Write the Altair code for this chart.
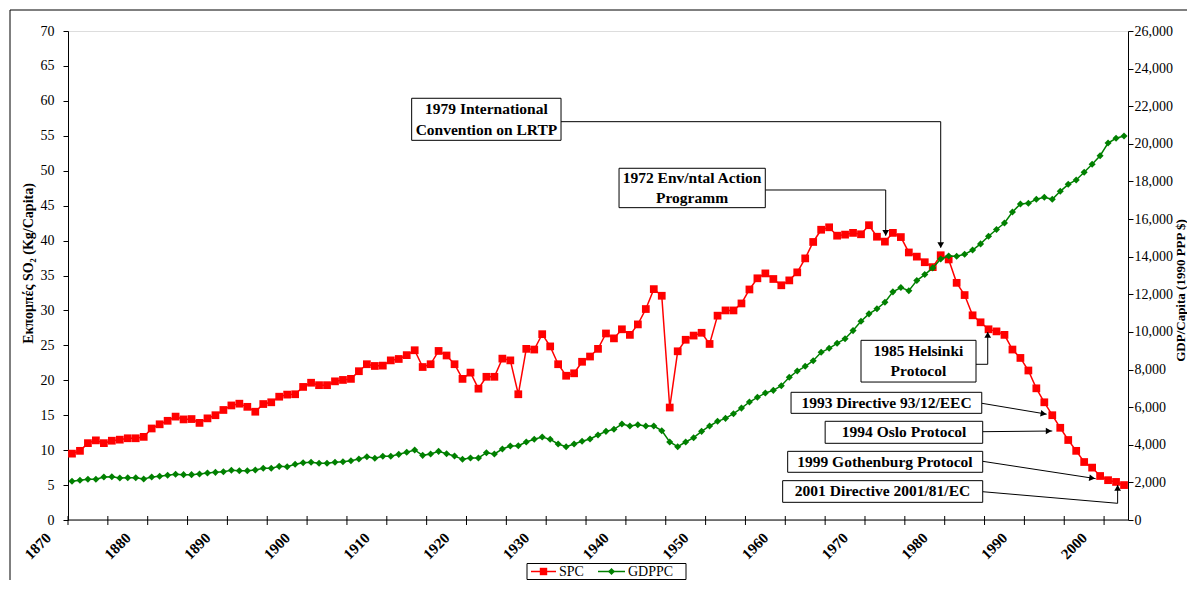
import altair as alt
import pandas as pd

# ---------------- data ----------------
years = list(range(1870, 2003))

spc = [
    9.5, 9.9, 11.0, 11.4, 11.0, 11.35, 11.5, 11.7, 11.7, 11.9,
    13.1, 13.7, 14.2, 14.8, 14.4, 14.45, 13.9, 14.55, 15.0, 15.75,
    16.4, 16.65, 16.2, 15.5, 16.6, 16.85, 17.65, 17.95, 18.0, 19.05,
    19.65, 19.3, 19.3, 19.85, 20.05, 20.2, 21.3, 22.3, 22.05, 22.1,
    22.85, 23.05, 23.6, 24.3, 21.9, 22.3, 24.2, 23.55, 22.3, 20.2,
    21.1, 18.8, 20.5, 20.5, 23.1, 22.85, 18.0, 24.5, 24.4, 26.6,
    24.85, 22.3, 20.65, 21.0, 22.65, 23.4, 24.5, 26.7, 26.0, 27.3,
    26.5, 28.0, 30.2, 33.05, 32.1, 16.1, 24.15, 25.8, 26.4, 26.8,
    25.2, 29.25, 30.0, 30.0, 31.0, 33.0, 34.6, 35.3, 34.5, 33.6,
    34.3, 35.45, 37.45, 39.8, 41.55, 41.9, 40.7, 40.85, 41.1, 40.9,
    42.2, 40.55, 39.85, 41.1, 40.5, 38.3, 37.7, 36.9, 36.2, 37.9,
    37.3, 33.95, 32.2, 29.3, 28.3, 27.3, 27.0, 26.5, 24.4, 23.2,
    21.4, 18.85, 16.85, 15.0, 13.2, 11.45, 9.9, 8.3, 7.5, 6.3,
    5.7, 5.45, 5.0,
]

gdppc = [
    2058, 2110, 2164, 2164, 2286, 2304, 2233, 2251, 2251, 2180,
    2286, 2322, 2375, 2428, 2411, 2411, 2446, 2499, 2534, 2570,
    2641, 2623, 2623, 2659, 2747, 2747, 2853, 2836, 2960, 3048,
    3066, 3013, 3013, 3066, 3101, 3155, 3243, 3367, 3279, 3385,
    3385, 3491, 3598, 3722, 3438, 3509, 3650, 3527, 3403, 3226,
    3297, 3297, 3580, 3509, 3775, 3935, 3952, 4147, 4289, 4413,
    4289, 4041, 3899, 4041, 4183, 4307, 4519, 4714, 4821, 5104,
    4998, 5069, 4998, 4998, 4750, 4147, 3899, 4147, 4377, 4714,
    4998, 5246, 5405, 5650, 5950, 6274, 6522, 6753, 6894, 7141,
    7587, 7922, 8172, 8470, 8917, 9129, 9395, 9640, 10070, 10564,
    10960, 11230, 11575, 12130, 12360, 12192, 12730, 13050, 13405, 13877,
    14037, 14020, 14126, 14356, 14680, 15090, 15445, 15791, 16376, 16801,
    16837, 17050, 17157, 17050, 17476, 17848, 18077, 18487, 18912, 19370,
    20045, 20295, 20417,
]

x_tick_values = [1869.5 + 5 * k for k in range(27)]
x_label_years = list(range(1870, 2001, 10))
left_ticks = list(range(0, 75, 5))
right_ticks = list(range(0, 28000, 2000))

# annotation boxes (year / SPC units)
box_x1 = [1912.62, 1938.64, 1969.0, 1960.22, 1964.5, 1959.8, 1959.17]
box_x2 = [1931.36, 1956.99, 1983.43, 1984.15, 1984.27, 1984.27, 1984.27]
box_y1 = [60.37, 50.35, 25.72, 18.28, 14.13, 9.83, 5.63]
box_y2 = [54.35, 44.71, 19.75, 15.27, 10.98, 6.83, 2.53]

note_text = ["1979 International", "Convention on LRTP",
             "1972 Env/ntal Action", "Programm",
             "1985 Helsinki", "Protocol",
             "1993 Directive 93/12/EEC", "1994 Oslo Protocol",
             "1999 Gothenburg Protocol", "2001 Directive 2001/81/EC"]
note_x = [1922.0, 1922.0, 1947.8, 1947.8, 1976.2, 1976.2, 1972.2, 1974.4, 1972.0, 1971.7]
note_y = [58.8, 55.8, 48.95, 46.1, 24.2, 21.3, 16.78, 12.55, 8.33, 4.08]

seg_x = [1931.36, 1979.0, 1956.99, 1972.1, 1983.43, 1984.9, 1984.15, 1984.27, 1984.27, 1984.27, 2001.2]
seg_y = [57.02, 57.02, 47.24, 47.24, 22.29, 22.29, 16.71, 12.64, 8.40, 4.05, 2.39]
seg_x2 = [1979.0, 1979.0, 1972.1, 1972.1, 1984.9, 1984.9, 1992.3, 1993.0, 1998.45, 2001.2, 2001.2]
seg_y2 = [57.02, 39.0, 47.24, 40.7, 22.29, 26.9, 15.15, 12.74, 5.92, 2.39, 5.0]

head_x = [1979.0, 1972.1, 1984.9, 1991.9, 1992.55, 1998.0, 2001.2]
head_y = [39.35, 41.1, 26.5, 15.22, 12.74, 5.99, 4.6]
head_shape = ["triangle-down", "triangle-down", "triangle-up", "triangle-right",
              "triangle-right", "triangle-right", "triangle-up"]
head_angle = [0, 0, 0, 9.5, 0, 9, 0]

# ---------------- frames ----------------
df = pd.DataFrame({"year": years, "SPC": spc, "GDPPC": gdppc})
boxes = pd.DataFrame({"x1": box_x1, "x2": box_x2, "y1": box_y1, "y2": box_y2})
notes = pd.DataFrame({"t": note_text, "x": note_x, "y": note_y})
segs = pd.DataFrame({"x": seg_x, "y": seg_y, "x2": seg_x2, "y2": seg_y2})
heads = pd.DataFrame({"x": head_x, "y": head_y, "shape": head_shape, "angle": head_angle})
xticks_df = pd.DataFrame({"t": x_tick_values})
xlabels_df = pd.DataFrame({"yr": x_label_years, "lab": [str(v) for v in x_label_years]})
one = pd.DataFrame({"a": [0]})

FONT = "Liberation Serif"
RED = "#FF0000"
GREEN = "#008000"
W, H = 1060, 489

xscale = alt.Scale(domain=[1869.5, 2002.5], nice=False, zero=False)
lscale = alt.Scale(domain=[0, 70], nice=False, zero=False)
rscale = alt.Scale(domain=[0, 26000], nice=False, zero=False)

left_axis = alt.Axis(
    orient="left", values=left_ticks, tickSize=5, labelPadding=9,
    labelFont=FONT, labelFontSize=14, labelColor="black",
    domainColor="black", tickColor="black", grid=False,
    title="Εκπομπές SO₂ (Kg/Capita)", titleFont=FONT, titleFontSize=14,
    titleFontWeight="bold", titleColor="black", titleAngle=270,
    titleX=-36, titleY=232, titleAlign="center", titleBaseline="alphabetic",
)
right_axis = alt.Axis(
    orient="right", values=right_ticks, format=",d", tickSize=5, labelPadding=1,
    labelFont=FONT, labelFontSize=14, labelColor="black",
    domainColor="black", tickColor="black", grid=False,
    title="GDP/Capita (1990 PPP $)", titleFont=FONT, titleFontSize=13,
    titleFontWeight="bold", titleColor="black", titleAngle=270,
    titleX=56, titleY=259, titleAlign="center", titleBaseline="alphabetic",
)


def Xn(f):
    return alt.X(f, scale=xscale, axis=None)


def Yl(f):
    return alt.Y(f, scale=lscale, axis=None)


base = alt.Chart(df)
spc_line = base.mark_line(color=RED, strokeWidth=1.5).encode(
    x=Xn("year:Q"), y=alt.Y("SPC:Q", scale=lscale, axis=left_axis))
spc_pts = base.mark_point(shape="square", filled=True, size=60, color=RED, opacity=1).encode(
    x=Xn("year:Q"), y=Yl("SPC:Q"))

seg_layer = alt.Chart(segs).mark_rule(color="black", strokeWidth=1).encode(
    x=Xn("x:Q"), y=Yl("y:Q"), x2="x2:Q", y2="y2:Q")
head_layer = alt.Chart(heads).mark_point(filled=True, size=45, color="black", opacity=1).encode(
    x=Xn("x:Q"), y=Yl("y:Q"),
    shape=alt.Shape("shape:N", scale=None),
    angle=alt.Angle("angle:Q", scale=None))
box_layer = alt.Chart(boxes).mark_rect(fill="white", stroke="black", strokeWidth=1).encode(
    x=Xn("x1:Q"), x2="x2:Q", y=Yl("y1:Q"), y2="y2:Q")
note_layer = alt.Chart(notes).mark_text(
    font=FONT, fontSize=15.5, fontWeight="bold", color="black", align="center", baseline="middle"
).encode(x=Xn("x:Q"), y=Yl("y:Q"), text="t:N")

gdp_line = base.mark_line(color=GREEN, strokeWidth=1.5).encode(
    x=Xn("year:Q"), y=alt.Y("GDPPC:Q", scale=rscale, axis=right_axis))
gdp_pts = base.mark_point(shape="diamond", filled=True, size=50, color=GREEN, opacity=1).encode(
    x=Xn("year:Q"), y=alt.Y("GDPPC:Q", scale=rscale, axis=None))

# x axis drawn from the x scale: domain line, crossing ticks, rotated labels
x_domain = alt.Chart(one).mark_rule(color="black", strokeWidth=1).encode(
    x=alt.value(0), x2=alt.value(W), y=alt.value(H))
x_tick_layer = alt.Chart(xticks_df).mark_rule(color="black", strokeWidth=1).encode(
    x=Xn("t:Q"), y=alt.value(H - 4), y2=alt.value(H + 5))
x_label_layer = alt.Chart(xlabels_df).transform_calculate(
    lx="datum.yr - 1.35"
).mark_text(
    font=FONT, fontSize=15, fontWeight="bold", color="black",
    align="center", baseline="middle", angle=315, dx=-16.5, dy=-16.5,
).encode(x=Xn("lx:Q"), y=alt.value(H + 26), text="lab:N")

# decorative chart border and legend (pixel positions)
ob = alt.Chart(one)
border = ob.mark_rect(fill="white", fillOpacity=0, stroke="black", strokeWidth=1).encode(
    x=alt.value(-58), x2=alt.value(1300), y=alt.value(-21), y2=alt.value(800))
LY = 540.5
leg_box = ob.mark_rect(fill="white", stroke="black", strokeWidth=1).encode(
    x=alt.value(459), x2=alt.value(618), y=alt.value(LY - 8), y2=alt.value(LY + 8))
leg_l1 = ob.mark_rule(color=RED, strokeWidth=1.5).encode(
    x=alt.value(463), x2=alt.value(488), y=alt.value(LY))
leg_p1 = ob.mark_point(shape="square", filled=True, size=55, color=RED, opacity=1).encode(
    x=alt.value(475.5), y=alt.value(LY))
leg_t1 = ob.mark_text(font=FONT, fontSize=14, align="left", baseline="middle", color="black").encode(
    x=alt.value(491), y=alt.value(LY + 0.5), text=alt.value("SPC"))
leg_l2 = ob.mark_rule(color=GREEN, strokeWidth=1.5).encode(
    x=alt.value(530), x2=alt.value(557), y=alt.value(LY))
leg_p2 = ob.mark_point(shape="diamond", filled=True, size=50, color=GREEN, opacity=1).encode(
    x=alt.value(543.5), y=alt.value(LY))
leg_t2 = ob.mark_text(font=FONT, fontSize=14, align="left", baseline="middle", color="black").encode(
    x=alt.value(560), y=alt.value(LY + 0.5), text=alt.value("GDPPC"))

chart = alt.layer(
    border, spc_line, spc_pts, seg_layer, head_layer, box_layer, note_layer,
    gdp_line, gdp_pts, x_domain, x_tick_layer, x_label_layer,
    leg_box, leg_l1, leg_p1, leg_t1, leg_l2, leg_p2, leg_t2,
).resolve_scale(y="independent").properties(
    width=W, height=H,
    autosize=alt.AutoSizeParams(type="none"),
    padding={"left": 60, "top": 23, "right": 59, "bottom": 60},
).configure_view(stroke="#808080", strokeWidth=1).configure(background="white")

chart.save("out.html", embed_options={"renderer": "svg", "actions": False})
